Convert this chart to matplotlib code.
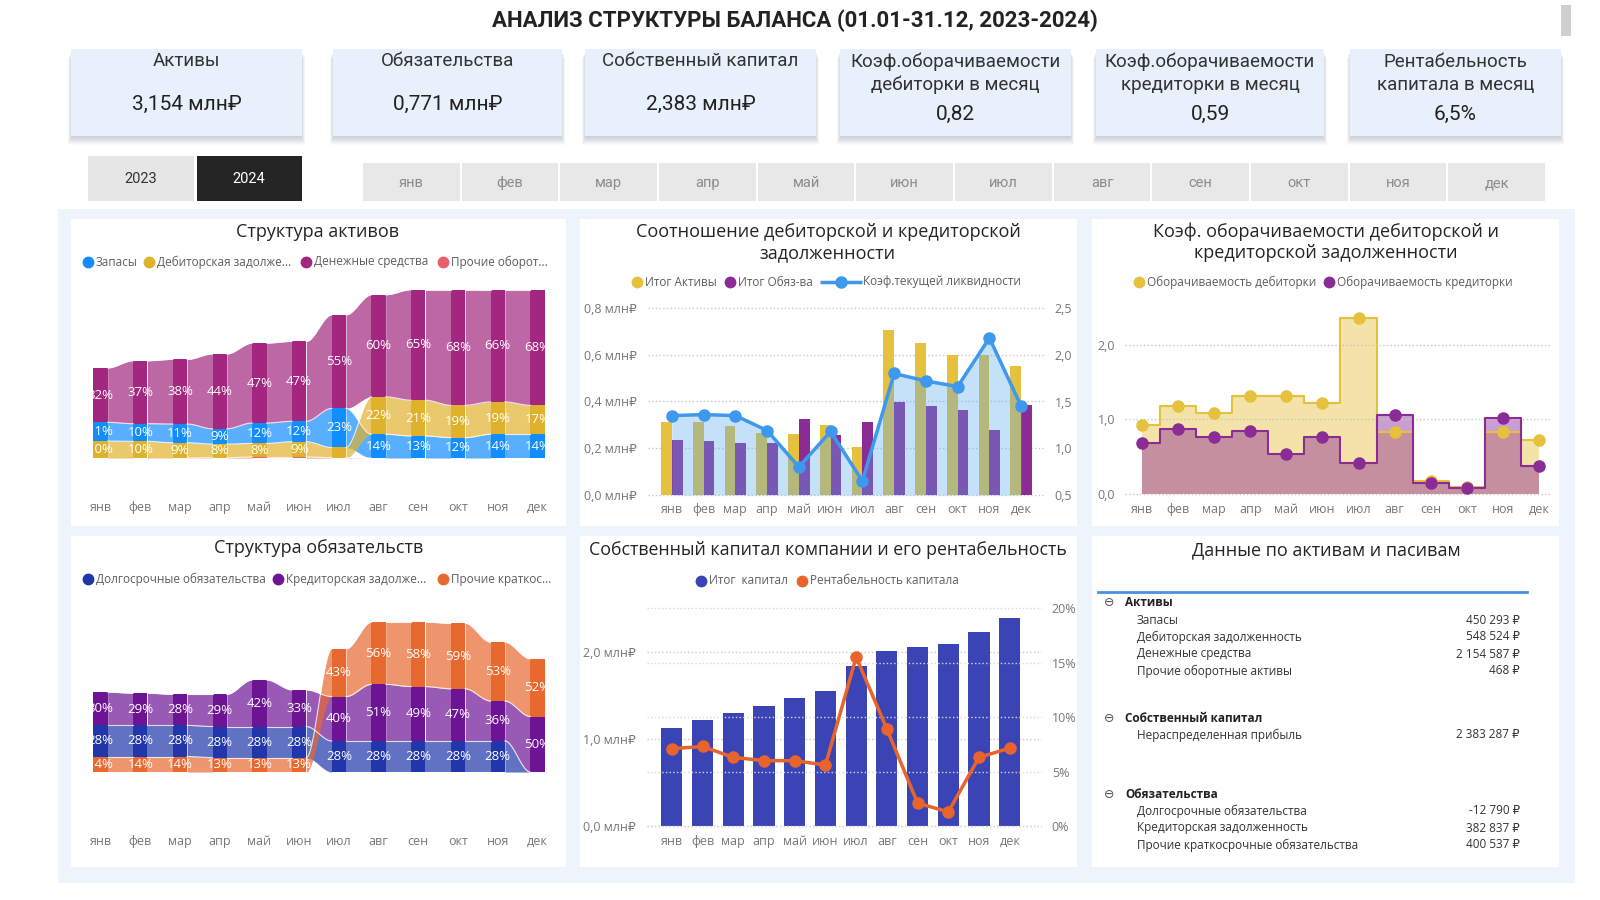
import numpy as np
import matplotlib.pyplot as plt
from matplotlib.patches import Rectangle

months = ["янв", "фев", "мар", "апр", "май", "июн", "июл", "авг", "сен", "окт", "ноя", "дек"]
years = ["2023", "2024"]

kpi_titles = ["Активы", "Обязательства", "Собственный капитал",
              "Коэф.оборачиваемости\nдебиторки в месяц",
              "Коэф.оборачиваемости\nкредиторки в месяц",
              "Рентабельность\nкапитала в месяц"]
kpi_values = ["3,154 млн₽", "0,771 млн₽", "2,383 млн₽", "0,82", "0,59", "6,5%"]

# Структура активов, %
asset_names = ["Запасы", "Дебиторская задолже...", "Денежные средства", "Прочие оборот..."]
stock = [11, 10.4, 11, 9, 12, 12, 23, 14, 13, 12, 14, 14]
receivables = [10, 9.8, 9, 8, 8, 9, 6, 22, 21, 19, 19, 17]
cash = [32, 37, 38, 44, 47, 47, 55, 60, 65, 68, 66, 68]
other_assets = [0, 0, 0, 0.2, 0.6, 0.6, 0.2, 0, 0, 0, 0, 0]

# Структура обязательств, %
liab_names = ["Долгосрочные обязательства", "Кредиторская задолже...", "Прочие краткос..."]
long_term = [28, 28, 28, 28, 28, 28, 28, 28, 28, 28, 28, 0]
payables = [30, 29, 28, 29, 42, 33, 40, 51, 49, 47, 36, 50]
other_short = [14, 14, 14, 13, 13, 13, 43, 56, 58, 59, 53, 52]

# Соотношение задолженности, млн ₽
debt_names = ["Итог Активы", "Итог Обяз-ва", "Коэф.текущей ликвидности"]
total_assets = [0.314, 0.311, 0.296, 0.264, 0.261, 0.299, 0.204, 0.704, 0.650, 0.600, 0.600, 0.553]
total_liab = [0.236, 0.229, 0.221, 0.221, 0.324, 0.257, 0.314, 0.397, 0.381, 0.363, 0.280, 0.386]
liquidity = [1.35, 1.36, 1.35, 1.19, 0.80, 1.18, 0.65, 1.80, 1.72, 1.66, 2.18, 1.45]

# Оборачиваемость
turn_names = ["Оборачиваемость дебиторки", "Оборачиваемость кредиторки"]
turn_deb = [0.93, 1.18, 1.09, 1.32, 1.31, 1.22, 2.36, 0.83, 0.17, 0.09, 0.83, 0.72]
turn_cred = [0.68, 0.87, 0.77, 0.84, 0.54, 0.77, 0.42, 1.06, 0.15, 0.08, 1.02, 0.38]

# Собственный капитал, млн ₽ и рентабельность, %
eq_names = ["Итог  капитал", "Рентабельность капитала"]
equity = [1.13, 1.22, 1.30, 1.38, 1.47, 1.55, 1.84, 2.01, 2.06, 2.09, 2.23, 2.39]
roe = [7.1, 7.3, 6.3, 6.0, 6.0, 5.6, 15.5, 8.9, 2.1, 1.3, 6.3, 7.15]

# Таблица
table_groups = ["Активы", "Собственный капитал", "Обязательства"]
table_items = [["Запасы", "Дебиторская задолженность", "Денежные средства", "Прочие оборотные активы"],
               ["Нераспределенная прибыль"],
               ["Долгосрочные обязательства", "Кредиторская задолженность",
                "Прочие краткосрочные обязательства"]]
table_values = [[450293, 548524, 2154587, 468], [2383287], [-12790, 382837, 400537]]

W, H = 1600, 900
plt.rcParams["font.family"] = ["Open Sans", "DejaVu Sans"]
NARROW = ["Liberation Sans Narrow", "Roboto", "DejaVu Sans"]
GRAY = "#777777"

fig = plt.figure(figsize=(16, 9), dpi=100)
fig.patch.set_facecolor("white")
bg = fig.add_axes([0, 0, 1, 1])
bg.set_xlim(0, W)
bg.set_ylim(H, 0)
bg.axis("off")


def box(x0, y0, x1, y1, color, **kw):
    bg.add_patch(Rectangle((x0, y0), x1 - x0, y1 - y0, facecolor=color, edgecolor="none", **kw))


def add_ax(x0, y0, x1, y1):
    ax = fig.add_axes([x0 / W, 1 - y1 / H, (x1 - x0) / W, (y1 - y0) / H])
    ax.set_facecolor("none")
    for sp in ax.spines.values():
        sp.set_visible(False)
    ax.tick_params(length=0, labelsize=9, labelcolor=GRAY)
    return ax


def legend_item(x, y, color, label, line=False):
    if line:
        bg.plot([x - 21, x + 21], [y, y], color=color, lw=2.5, solid_capstyle="butt")
        bg.plot([x], [y], "o", color=color, ms=8)
        tx = x + 22
    else:
        bg.plot([x], [y], "o", color=color, ms=7.5)
        tx = x + 8
    bg.text(tx, y, label, fontsize=8.5, color="#605E5C", va="center", ha="left")


def ribbon_chart(ax, series, colors, min_label):
    vals = np.array(series, dtype=float)
    k, n = vals.shape
    x = np.arange(n)
    bottoms = np.zeros_like(vals)
    for i in range(n):
        acc = 0.0
        for s in sorted(range(k), key=lambda s: vals[s, i]):
            bottoms[s, i] = acc
            acc += vals[s, i]
    tops = bottoms + vals
    w = 0.36
    t = np.linspace(0, 1, 40)
    sm = t * t * (3 - 2 * t)
    for s in range(k):
        for i in range(n - 1):
            xx = np.linspace(x[i] + w / 2, x[i + 1] - w / 2, 40)
            lo = bottoms[s, i] + (bottoms[s, i + 1] - bottoms[s, i]) * sm
            hi = tops[s, i] + (tops[s, i + 1] - tops[s, i]) * sm
            if vals[s, i] + vals[s, i + 1] > 0:
                ax.fill_between(xx, lo, hi, color=colors[s], alpha=0.7, lw=0)
                ax.plot(xx, hi, color="white", lw=0.8, alpha=0.8)
    for s in range(k):
        ax.bar(x, vals[s], bottom=bottoms[s], width=w, color=colors[s], lw=0)
        for i in range(n):
            if vals[s, i] >= min_label:
                ax.text(x[i], bottoms[s, i] + vals[s, i] / 2, f"{vals[s, i]:.0f}%", ha="center",
                        va="center", color="white", fontsize=9.5, clip_on=True)
    ax.set_xticks(x, months)
    ax.set_yticks([])


# ---- header ----
bg.text(795, 21, "АНАЛИЗ СТРУКТУРЫ БАЛАНСА (01.01-31.12, 2023-2024)", family=NARROW,
        fontsize=16, fontweight="bold", ha="center", va="center", color="#222222")
box(1561, 5, 1571, 36, "#CFCFCF")

card_x = [(71, 302), (333, 562), (585, 816), (840, 1071), (1096, 1324), (1350, 1561)]
for (x0, x1), title, value in zip(card_x, kpi_titles, kpi_values):
    y0, y1 = 49, 136
    for j in range(1, 11):
        box(x0 + 1 - j * 0.4, y0 + j * 0.9, x1 - 1 + j * 0.4, y1 + j * 0.9, "#5a6a7c", alpha=0.03)
    box(x0, y0, x1, y1, "#E8F1FB")
    cx = (x0 + x1) / 2
    lines = title.split("\n")
    if len(lines) == 1:
        bg.text(cx, 61, lines[0], family=NARROW, fontsize=13.5, ha="center", va="center", color="#333333")
        bg.text(cx, 104, value, family=NARROW, fontsize=15, ha="center", va="center", color="#222222")
    else:
        for ln, yy in zip(lines, (62, 85)):
            bg.text(cx, yy, ln, family=NARROW, fontsize=13.5, ha="center", va="center", color="#333333")
        bg.text(cx, 114, value, family=NARROW, fontsize=15, ha="center", va="center", color="#222222")

box(88, 156, 194, 201, "#E6E6E6")
box(197, 156, 302, 201, "#252525")
bg.text(141, 179, years[0], fontsize=10.5, ha="center", va="center", color="#333333", family=NARROW)
bg.text(249, 179, years[1], fontsize=10.5, ha="center", va="center", color="white", family=NARROW)

cell = (1546 - 362) / 12
for i, m in enumerate(months):
    box(362 + i * cell + 1, 163, 362 + (i + 1) * cell - 1, 201, "#E8E8E8")
    bg.text(362 + (i + 0.5) * cell, 183, m, fontsize=10.5, ha="center", va="center", color="#8C8C8C",
            family=NARROW)

# ---- panels background ----
box(58, 209, 1575, 883, "#EDF4FB")
panels = [(71, 219, 566, 526), (580, 219, 1077, 526), (1092, 219, 1559, 526),
          (71, 536, 566, 867), (580, 536, 1077, 867), (1092, 536, 1559, 867)]
for x0, y0, x1, y1 in panels:
    box(x0, y0, x1, y1, "white")

TITLE = dict(fontsize=13, ha="center", va="center", color="#252423")
bg.text(318, 232, "Структура активов", **TITLE)
bg.text(828, 232, "Соотношение дебиторской и кредиторской", **TITLE)
bg.text(828, 253, "задолженности", **TITLE)
bg.text(1326, 232, "Коэф. оборачиваемости дебиторской и", **TITLE)
bg.text(1326, 253, "кредиторской задолженности", **TITLE)
bg.text(319, 548, "Структура обязательств", **TITLE)
bg.text(828, 550, "Собственный капитал компании и его рентабельность", fontsize=12.8, ha="center",
        va="center", color="#252423")
bg.text(1326, 550, "Данные по активам и пасивам", **TITLE)

# ---- 1. Структура активов ----
asset_colors = ["#118DFF", "#E0B22C", "#A3267F", "#E8606A"]
for xm, c, lab in zip([88, 149, 306, 443], asset_colors, asset_names):
    legend_item(xm, 262, c, lab)
ax1 = add_ax(93, 280, 545, 490)
ribbon_chart(ax1, [stock, receivables, cash, other_assets], asset_colors, 7)
ax1.set_xlim(-0.19, 11.19)
ax1.set_ylim(-18.8, 104.7)
ax1.tick_params(axis="x", pad=8)

# ---- 4. Структура обязательств ----
liab_colors = ["#2036AA", "#6D1494", "#E8692F"]
for xm, c, lab in zip([88, 278, 443], liab_colors, liab_names):
    legend_item(xm, 579, c, lab)
ax4 = add_ax(93, 580, 545, 820)
ribbon_chart(ax4, [long_term, payables, other_short], liab_colors, 5)
ax4.set_xlim(-0.19, 11.19)
ax4.set_ylim(-43.2, 173)
ax4.tick_params(axis="x", pad=11)

# ---- 2. Соотношение задолженности ----
YEL, PUR, BLUE = "#E6C13E", "#8B2B96", "#3D98EE"
legend_item(637, 282, YEL, debt_names[0])
legend_item(730, 282, PUR, debt_names[1])
legend_item(841, 282, BLUE, debt_names[2], line=True)
ax2 = add_ax(648, 300, 1045, 497)
x = np.arange(len(months))
ax2.bar(x - 0.17, total_assets, width=0.34, color=YEL, lw=0, zorder=2)
ax2.bar(x + 0.17, total_liab, width=0.34, color=PUR, lw=0, zorder=2)
ax2.set_xlim(-0.75, 11.75)
ax2.set_ylim(-0.0086, 0.834)
ax2.set_yticks([0, 0.2, 0.4, 0.6, 0.8], ["0,0 млн₽", "0,2 млн₽", "0,4 млн₽", "0,6 млн₽", "0,8 млн₽"])
ax2.set_xticks(x, months)
ax2.grid(axis="y", ls=":", color="#C8C8C8", lw=1, zorder=0)
ax2.tick_params(axis="y", pad=8)
ax2.tick_params(axis="x", pad=4)
ax2r = ax2.twinx()
for sp in ax2r.spines.values():
    sp.set_visible(False)
ax2r.tick_params(length=0, labelsize=9, labelcolor=GRAY, pad=7)
ax2r.fill_between(x, liquidity, 0.5, color="#5AAAF0", alpha=0.35, lw=0)
ax2r.plot(x, liquidity, color=BLUE, lw=2.5, marker="o", ms=8)
ax2r.set_ylim(0.479, 2.586)
ax2r.set_yticks([0.5, 1.0, 1.5, 2.0, 2.5], ["0,5", "1,0", "1,5", "2,0", "2,5"])

# ---- 3. Оборачиваемость ----
legend_item(1139, 282, YEL, turn_names[0])
legend_item(1329, 282, PUR, turn_names[1])
ax3 = add_ax(1125, 300, 1552, 497)
ax3.fill_between(x, turn_deb, step="mid", color=YEL, alpha=0.45, lw=0)
ax3.step(x, turn_deb, where="mid", color=YEL, lw=1.5)
ax3.fill_between(x, turn_cred, step="mid", color=PUR, alpha=0.45, lw=0)
ax3.step(x, turn_cred, where="mid", color=PUR, lw=1.5)
ax3.plot(x, turn_deb, "o", color=YEL, ms=8, zorder=4)
ax3.plot(x, turn_cred, "o", color=PUR, ms=8, zorder=4)
ax3.set_xlim(-0.47, 11.36)
ax3.set_ylim(-0.04, 2.60)
ax3.set_yticks([0, 1, 2], ["0,0", "1,0", "2,0"])
ax3.set_xticks(x, months)
ax3.grid(axis="y", ls=":", color="#C8C8C8", lw=1, zorder=0)
ax3.tick_params(axis="y", pad=7)
ax3.tick_params(axis="x", pad=4)

# ---- 5. Собственный капитал ----
EQB, ORG = "#3A44B5", "#E8642C"
legend_item(701, 581, EQB, eq_names[0])
legend_item(802, 581, ORG, eq_names[1])
ax5 = add_ax(647, 595, 1042, 828)
ax5.bar(x, equity, width=0.69, color=EQB, lw=0, zorder=2)
ax5.set_xlim(-0.81, 12.05)
ax5.set_ylim(-0.023, 2.655)
ax5.set_yticks([0, 1, 2], ["0,0 млн₽", "1,0 млн₽", "2,0 млн₽"])
ax5.set_xticks(x, months)
ax5.grid(axis="y", ls=":", color="#C8C8C8", lw=1, zorder=0)
ax5.tick_params(axis="y", pad=8)
ax5.tick_params(axis="x", pad=5)
ax5r = ax5.twinx()
for sp in ax5r.spines.values():
    sp.set_visible(False)
ax5r.tick_params(length=0, labelsize=9, labelcolor=GRAY, pad=7)
ax5r.plot(x, roe, color=ORG, lw=2.5, marker="o", ms=8)
ax5r.set_ylim(-0.18, 21.2)
ax5r.set_yticks([0, 5, 10, 15, 20], ["0%", "5%", "10%", "15%", "20%"])
ax5r.grid(axis="y", ls=":", color="#D8D8D8", lw=1)
ax5r.set_axisbelow(True)

# ---- 6. Таблица ----
bg.plot([1098, 1527], [592, 592], color="#4A90E2", lw=2)
for gy, grp, items, values in zip([603, 718, 794], table_groups, table_items, table_values):
    bg.text(1109, gy, "⊖", fontsize=9, ha="center", va="center", color="#555555")
    bg.text(1125, gy, grp, fontsize=8.5, fontweight="bold", ha="left", va="center", color="#222222")
    for j, (item, v) in enumerate(zip(items, values)):
        yy = gy + 17 * (j + 1)
        bg.text(1137, yy, item, fontsize=8.5, ha="left", va="center", color="#333333")
        bg.text(1520, yy, f"{v:,}".replace(",", " ") + " ₽", fontsize=8.5, ha="right", va="center",
                color="#333333")

fig.savefig("out.png", dpi=100)
plt.close(fig)
